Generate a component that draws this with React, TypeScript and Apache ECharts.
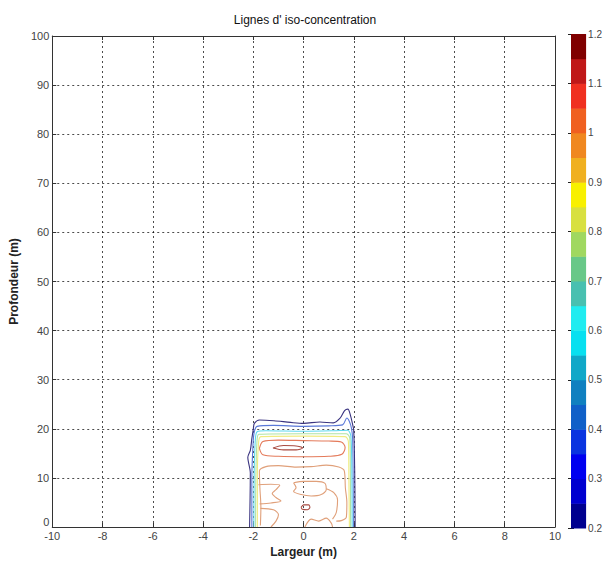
import React, { useEffect, useRef } from "react";
import * as echarts from "echarts";

// ---- axes ----
const xMin = -10;
const xMax = 10;
const xStep = 2;
const yMin = 0;
const yMax = 100;
const yStep = 10;

// ---- colour bar ----
const barMin = 0.2;
const barMax = 1.2;
const barStep = 0.1;
const bandEdges = [0.2, 0.25, 0.3, 0.35, 0.4, 0.45, 0.5, 0.55, 0.6, 0.65, 0.7, 0.75, 0.8, 0.85, 0.9, 0.95, 1.0, 1.05, 1.1, 1.15, 1.2];
const bandColors = [
  "#00008f", "#0000d0", "#0000f0", "#0a34e0", "#1060c8", "#1080c0", "#10a8c8", "#08e0f0",
  "#20ecf0", "#48c0b0", "#68c888", "#a0d860", "#d8e040", "#f8f000", "#f0b020", "#f08820",
  "#f06020", "#f03020", "#c01818", "#800000",
];

// ---- contour lines (x: largeur m, y: profondeur m) ----
const contourLevels = [0.25, 0.35, 0.55, 0.7, 0.8, 0.95, 1.0, 1.0, 1.0, 1.0, 1.0, 1.0, 1.1, 1.1];

const contour025 = [[-2.15, 0], [-2.13, 6], [-2.12, 11], [-2.22, 14.2], [-2.12, 15.6], [-2.06, 18], [-2.0, 20], [-1.96, 21.1], [-1.76, 21.8], [-1.18, 21.65], [-0.52, 21.3], [0, 21.1], [0.65, 21.4], [1.18, 21.2], [1.44, 22.1], [1.63, 23.7], [1.76, 24.0], [1.86, 22.8], [1.94, 21.1], [1.99, 19.8], [2.02, 15], [2.04, 8], [2.05, 0]];
const contour035 = [[-2.06, 0], [-2.06, 10], [-2.02, 16], [-1.97, 19.2], [-1.85, 20.5], [-1.2, 20.7], [0, 20.5], [1.0, 20.6], [1.55, 20.8], [1.72, 22.2], [1.82, 21.5], [1.9, 20.2], [1.95, 18], [1.97, 10], [1.98, 0]];
const contour055 = [[-1.98, 0], [-1.97, 10], [-1.93, 17], [-1.85, 19.4], [-1.5, 19.6], [0, 19.5], [1.2, 19.6], [1.75, 19.7], [1.88, 18.5], [1.92, 10], [1.93, 0]];
const contour070 = [[-1.91, 0], [-1.9, 10], [-1.86, 17], [-1.78, 18.9], [0, 19.0], [1.7, 19.0], [1.84, 18], [1.86, 10], [1.87, 0]];
const contour080 = [[-1.84, 0], [-1.84, 10], [-1.8, 16.5], [-1.7, 18.4], [0, 18.5], [1.65, 18.4], [1.78, 17.4], [1.8, 10], [1.82, 0]];
const contour095 = [[-1.76, 16.0], [-1.62, 17.4], [-1.0, 17.7], [0, 17.6], [1.0, 17.5], [1.5, 17.3], [1.65, 16.2], [1.52, 14.8], [1.0, 14.4], [0, 14.3], [-1.0, 14.4], [-1.62, 14.7], [-1.76, 16.0]];
const contour100a = [[-1.72, 0.3], [-1.7, 4], [-1.74, 8], [-1.76, 11.4], [-1.5, 12.3], [-1.0, 12.5], [-0.3, 12.2], [0.3, 12.3], [0.9, 12.6], [1.4, 12.2], [1.62, 11.4], [1.66, 8], [1.72, 5], [1.7, 2], [1.5, 1.3], [1.3, 1.2]];
const contour100b = [[-1.8, 8.6], [-1.3, 8.7], [-0.95, 8.5], [-1.1, 7.6], [-1.25, 6.8], [-1.1, 6.0], [-0.9, 5.3], [-1.3, 4.9], [-1.75, 4.7]];
const contour100c = [[-1.72, 3.8], [-1.2, 3.5], [-1.0, 2.5], [-1.1, 1.2], [-1.3, 0]];
const contour100d = [[-0.4, 9.0], [0, 9.3], [0.5, 9.3], [0.85, 8.9], [0.9, 7.6], [0.7, 6.6], [0.3, 6.3], [-0.1, 6.6], [-0.4, 7.3], [-0.3, 8.0], [-0.4, 9.0]];
const contour100e = [[0.9, 7.8], [1.2, 7.0], [1.35, 5.5], [1.3, 3.0], [1.15, 1.6]];
const contour100f = [[0.05, 0], [0.3, 1.6], [0.6, 1.2], [0.9, 1.8], [1.1, 0.8], [1.15, 0]];
const contour110a = [[-1.22, 16.1], [-0.8, 16.6], [-0.3, 16.5], [-0.04, 16.1], [-0.3, 15.7], [-0.8, 15.7], [-1.22, 16.1]];
const contour110b = [[-0.1, 4.0], [0, 4.5], [0.2, 4.5], [0.25, 4.0], [0.15, 3.5], [-0.05, 3.6], [-0.1, 4.0]];

const contourLines = [
  contour025, contour035, contour055, contour070, contour080, contour095,
  contour100a, contour100b, contour100c, contour100d, contour100e, contour100f,
  contour110a, contour110b,
];

// line colours per level (style)
const levelColor: Record<string, string> = {
  "0.25": "#3a3480",
  "0.35": "#5a78d8",
  "0.55": "#60d8ee",
  "0.7": "#b0e4a4",
  "0.8": "#f0ec80",
  "0.95": "#e47a5a",
  "1": "#e0a07a",
  "1.1": "#a84a40",
};

const fontFamily = "'Liberation Sans', Arial, sans-serif";

export default function App() {
  const ref = useRef<HTMLDivElement>(null);

  useEffect(() => {
    if (!ref.current) return;
    const chart = echarts.init(ref.current, undefined, { renderer: "svg" });

    const gridLine = { show: true, lineStyle: { color: "#000", type: [2, 3] as any, width: 1, opacity: 0.7 } };
    const axisLine = { show: true, onZero: false, lineStyle: { color: "#333", width: 1 } };
    const tickIn = { show: true, inside: true, length: 4, lineStyle: { color: "#333" } };
    const label = { color: "#444", fontSize: 11, fontFamily };

    const bandData = bandEdges.slice(0, -1).map((lo, i) => [0.5, lo, bandEdges[i + 1]]);

    const series: any[] = contourLines.map((pts, i) => ({
      type: "line",
      xAxisIndex: 0,
      yAxisIndex: 0,
      data: pts,
      showSymbol: false,
      symbol: "none",
      smooth: 0.3,
      lineStyle: { color: levelColor[String(contourLevels[i])], width: 1.1 },
      silent: true,
      z: 3,
    }));

    series.push({
      type: "custom",
      xAxisIndex: 2,
      yAxisIndex: 2,
      data: bandData,
      encode: { x: 0, y: [1, 2] },
      renderItem: (params: any, api: any) => {
        const lo = api.value(1);
        const hi = api.value(2);
        const p1 = api.coord([0, hi]);
        const p2 = api.coord([1, lo]);
        return {
          type: "rect",
          shape: { x: p1[0], y: p1[1], width: p2[0] - p1[0], height: p2[1] - p1[1] + 0.5 },
          style: { fill: bandColors[params.dataIndex] },
        };
      },
      silent: true,
      z: 2,
    });

    chart.setOption({
      animation: false,
      backgroundColor: "#fff",
      title: {
        text: "Lignes d' iso-concentration",
        left: 300,
        textAlign: "center",
        top: 9,
        textStyle: { fontSize: 12, fontWeight: "normal", color: "#111", fontFamily },
      },
      grid: [
        { left: 45, top: 36, width: 510, height: 491, containLabel: false },
        { left: 571, top: 34, width: 16, height: 494, containLabel: false },
      ],
      xAxis: [
        {
          type: "value", gridIndex: 0, position: "bottom", min: xMin, max: xMax, interval: xStep,
          axisLine, axisTick: tickIn, splitLine: gridLine,
          axisLabel: { ...label, margin: 3, lineHeight: 11 },
          name: "Largeur (m)", nameLocation: "middle", nameGap: 17,
          nameTextStyle: { fontSize: 12, fontWeight: "bold", color: "#222", fontFamily },
        },
        {
          type: "value", gridIndex: 0, position: "top", min: xMin, max: xMax, interval: xStep,
          axisLine, axisTick: tickIn, splitLine: { show: false }, axisLabel: { show: false },
        },
        {
          type: "value", gridIndex: 1, min: 0, max: 1, show: false,
        },
      ],
      yAxis: [
        {
          type: "value", gridIndex: 0, position: "left", min: yMin, max: yMax, interval: yStep,
          axisLine, axisTick: tickIn, splitLine: gridLine,
          axisLabel: { ...label, margin: 3, lineHeight: 11, verticalAlignMinLabel: "bottom" },
          name: "Profondeur (m)", nameLocation: "middle", nameGap: 24,
          nameTextStyle: { fontSize: 12, fontWeight: "bold", color: "#222", fontFamily },
        },
        {
          type: "value", gridIndex: 0, position: "right", min: yMin, max: yMax, interval: yStep,
          axisLine, axisTick: tickIn, splitLine: { show: false }, axisLabel: { show: false },
        },
        {
          type: "value", gridIndex: 1, position: "right", min: barMin, max: barMax, interval: barStep,
          axisLine: { show: false },
          axisTick: { show: true, inside: true, length: 3, lineStyle: { color: "#222" } },
          splitLine: { show: false },
          axisLabel: {
            ...label, fontSize: 10, margin: 2,
            formatter: (v: number) => String(Math.round(v * 10) / 10),
          },
        },
        {
          type: "value", gridIndex: 1, position: "left", min: barMin, max: barMax, interval: barStep,
          axisLine: { show: false },
          axisTick: { show: true, inside: true, length: 3, lineStyle: { color: "#222" } },
          splitLine: { show: false },
          axisLabel: { show: false },
        },
      ],
      series,
    });

    return () => chart.dispose();
  }, []);

  return (
    <div
      ref={ref}
      style={{ position: "fixed", left: 0, top: 0, width: 605, height: 574, background: "#fff" }}
    />
  );
}
